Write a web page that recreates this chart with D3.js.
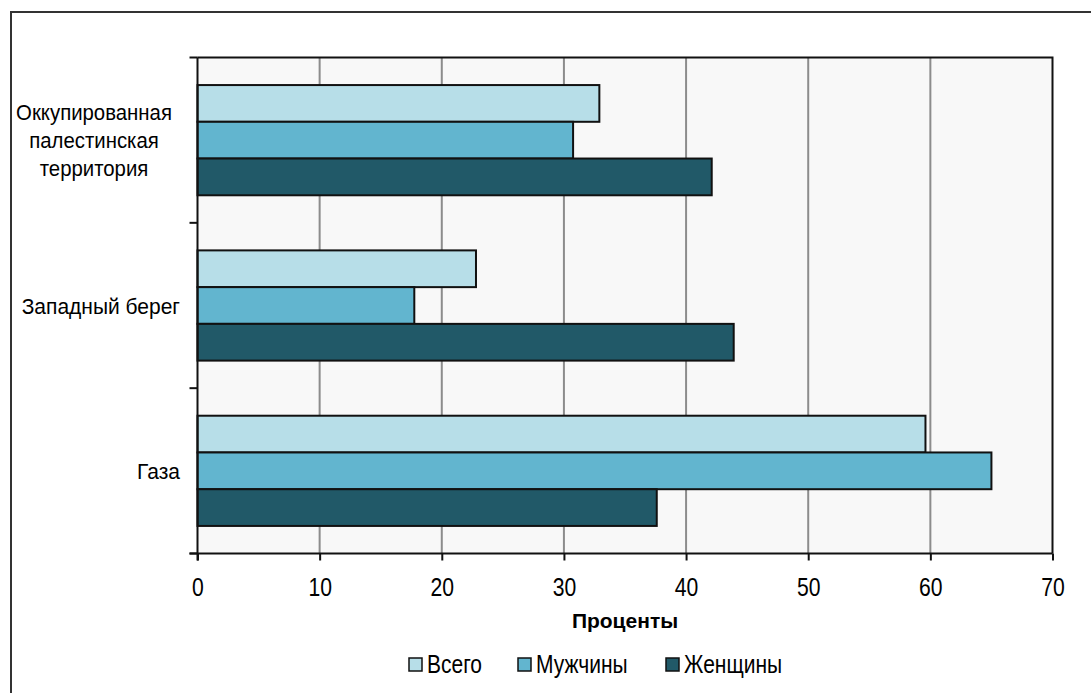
<!DOCTYPE html>
<html>
<head>
<meta charset="utf-8">
<script src="https://cdn.jsdelivr.net/npm/d3@7"></script>
<style>
  html, body { margin: 0; padding: 0; background: #fff; }
  svg text { font-family: Arial, "Liberation Sans", sans-serif; fill: #000; }
</style>
</head>
<body>
<svg id="chart" width="1091" height="693"></svg>
<script>
// Regions (top to bottom) and the three series drawn for each
const categories = [
  ["Оккупированная", "палестинская", "территория"],
  ["Западный берег"],
  ["Газа"]
];
const seriesNames = ["Всего", "Мужчины", "Женщины"];
const totalValues = [32.9, 22.8, 59.6];
const menValues   = [30.75, 17.75, 65.0];
const womenValues = [42.1, 43.9, 37.6];
const xTicks = [0, 10, 20, 30, 40, 50, 60, 70];
const axisTitle = "Проценты";

const colors = ["#b7dee8", "#62b5cf", "#215968"];
const seriesValues = [totalValues, menValues, womenValues];
const catKeys = categories.map(c => c.join(" "));

const svg = d3.select("#chart");
const plot = { left: 197.5, right: 1052.5, top: 57.5, bottom: 553.5 };
const outerPad = 1 / 6;

// Outer frame of the chart object
svg.append("rect")
  .attr("x", 11).attr("y", 12).attr("width", 1200).attr("height", 800)
  .attr("fill", "#fff").attr("stroke", "#333").attr("stroke-width", 2);

const x = d3.scaleLinear().domain([0, 70]).range([plot.left, plot.right]);
const y = d3.scaleBand().domain(catKeys).range([plot.top, plot.bottom])
  .paddingInner(1 / 3).paddingOuter(outerPad);
const ySub = d3.scaleBand().domain(seriesNames).range([0, y.bandwidth()]);

// Plot background
svg.append("rect")
  .attr("x", plot.left).attr("y", plot.top)
  .attr("width", plot.right - plot.left).attr("height", plot.bottom - plot.top)
  .attr("fill", "#f8f8f8");

// Vertical gridlines
svg.append("g").selectAll("line")
  .data(xTicks.filter(t => t > 0 && t < 70))
  .join("line")
  .attr("x1", d => x(d)).attr("x2", d => x(d))
  .attr("y1", plot.top).attr("y2", plot.bottom)
  .attr("stroke", "#8c8c8c").attr("stroke-width", 2);

// Bars
const rows = [];
catKeys.forEach((c, i) => {
  seriesNames.forEach((s, j) => rows.push({ cat: c, series: s, value: seriesValues[j][i], color: colors[j] }));
});
svg.append("g").selectAll("rect")
  .data(rows)
  .join("rect")
  .attr("x", x(0))
  .attr("y", d => y(d.cat) + ySub(d.series))
  .attr("width", d => x(d.value) - x(0))
  .attr("height", ySub.bandwidth())
  .attr("fill", d => d.color)
  .attr("stroke", "#111").attr("stroke-width", 2);

// Plot border (top and right)
svg.append("path")
  .attr("d", `M${plot.left},${plot.top}H${plot.right}V${plot.bottom}`)
  .attr("fill", "none").attr("stroke", "#111").attr("stroke-width", 2);

// X axis: ticks and condensed numeric labels
const xAxis = d3.axisBottom(x).tickValues(xTicks).tickSize(7).tickFormat(d3.format("d"));
const gx = svg.append("g").attr("transform", `translate(0,${plot.bottom})`).call(xAxis);
gx.select(".domain").remove();
gx.selectAll(".tick line").attr("stroke", "#111").attr("stroke-width", 2);
gx.selectAll(".tick text")
  .attr("x", 0).attr("y", 0).attr("dy", null)
  .attr("font-size", 23)
  .attr("transform", "translate(0,42.5) scale(0.92,1.12)");

// Y axis boundary ticks (between categories)
const boundaries = catKeys.map(c => y(c) - y.step() * outerPad).concat([plot.bottom]);
svg.append("g").selectAll("line")
  .data(boundaries)
  .join("line")
  .attr("x1", plot.left - 8).attr("x2", plot.left)
  .attr("y1", d => d).attr("y2", d => d)
  .attr("stroke", "#111").attr("stroke-width", 2);

// Axis lines
svg.append("line").attr("x1", plot.left).attr("x2", plot.left)
  .attr("y1", plot.top).attr("y2", plot.bottom + 7)
  .attr("stroke", "#111").attr("stroke-width", 2);
svg.append("line").attr("x1", plot.left - 8).attr("x2", plot.right)
  .attr("y1", plot.bottom).attr("y2", plot.bottom)
  .attr("stroke", "#111").attr("stroke-width", 2);

// Category labels
const labelSize = 21;
categories.forEach((lines, i) => {
  const cy = y(catKeys[i]) + y.bandwidth() / 2;
  const lh = 28;
  const multi = lines.length > 1;
  lines.forEach((line, k) => {
    const ty = cy + (k - (lines.length - 1) / 2) * lh;
    const tx = multi ? 94 : 180;
    svg.append("text")
      .attr("transform", `translate(${tx},${ty}) scale(${multi ? 0.97 : 1.0},1.08)`)
      .attr("text-anchor", multi ? "middle" : "end")
      .attr("dy", "0.36em")
      .attr("font-size", labelSize)
      .text(line);
  });
});

// Axis title
svg.append("text")
  .attr("x", (plot.left + plot.right) / 2).attr("y", 628)
  .attr("text-anchor", "middle").attr("font-weight", "bold").attr("font-size", 21)
  .text(axisTitle);

// Legend
const legendX = [409, 518, 666];
const lg = svg.append("g");
seriesNames.forEach((s, j) => {
  lg.append("rect")
    .attr("x", legendX[j]).attr("y", 658).attr("width", 13).attr("height", 13)
    .attr("fill", colors[j]).attr("stroke", "#111").attr("stroke-width", 1.5);
  lg.append("text")
    .attr("transform", `translate(${legendX[j] + 18},673) scale(1.0,1.2)`)
    .attr("font-size", labelSize)
    .text(s);
});
</script>
</body>
</html>
